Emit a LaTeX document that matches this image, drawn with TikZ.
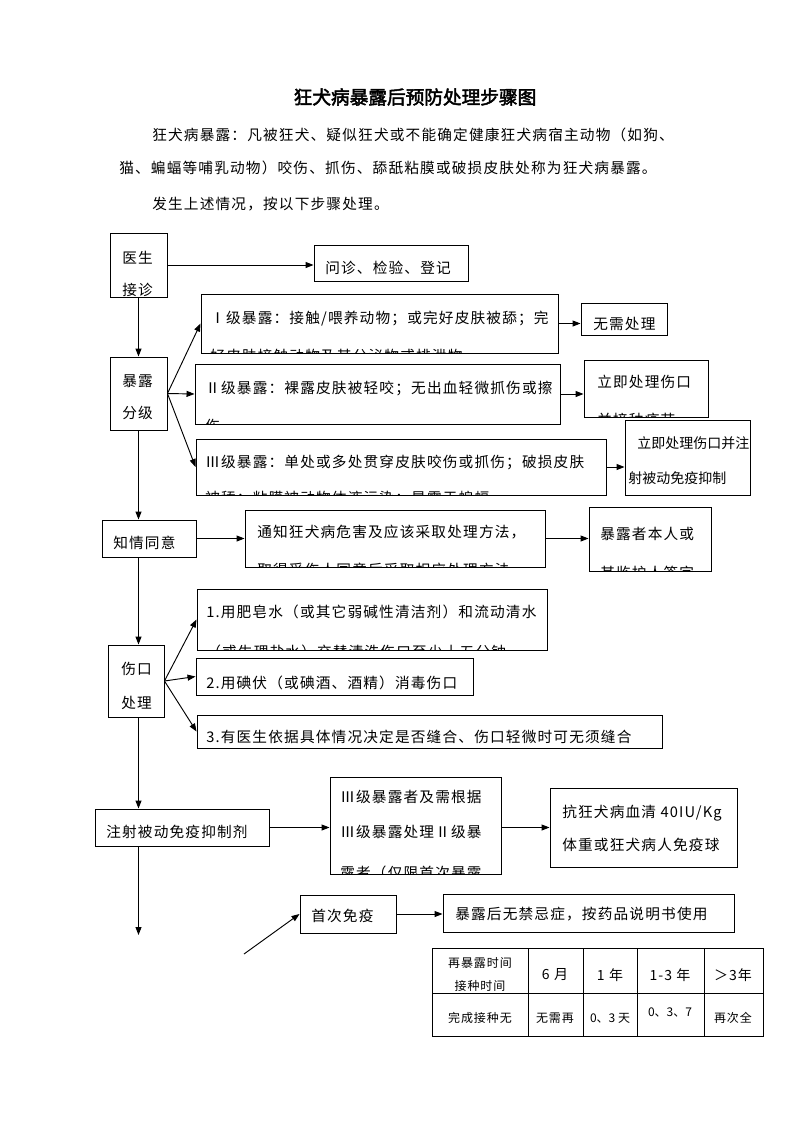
\documentclass[tikz,border=0pt]{standalone}
\usepackage{fontspec}
\usetikzlibrary{arrows.meta,fit}
\newfontfamily\cjk[LetterSpace=8]{Noto Sans CJK SC}
\newfontfamily\cjktight{Noto Sans CJK SC}
\newfontfamily\cjkb[FakeBold=2.5]{Noto Sans CJK SC}
\tikzset{
  box/.style={draw, line width=0.7pt, inner sep=0pt},
  txt/.style={anchor=west, inner sep=0pt, font=\cjk\fontsize{11}{13}\selectfont},
  tsm/.style={anchor=center, inner sep=0pt, font=\cjk\fontsize{9}{11}\selectfont},
  tnum/.style={anchor=center, inner sep=0pt, font=\cjktight\fontsize{9}{11}\selectfont},
  tmd/.style={anchor=center, inner sep=0pt, font=\cjk\fontsize{10.5}{12}\selectfont},
  arr/.style={-{Triangle[length=6pt,width=4.5pt]}, line width=0.7pt},
}
\newcommand\clipbox[1]{\clip (#1.south west) rectangle (#1.north east);}
\begin{document}
\begin{tikzpicture}[x=0.75pt,y=-0.75pt]
\useasboundingbox (0,0) rectangle (793,1122);
\fill[white] (0,0) rectangle (793,1122);

% title and intro
\node[inner sep=0pt, font=\cjkb\fontsize{14}{16}\selectfont] (title) at (415,97) {狂犬病暴露后预防处理步骤图};
\node[txt] (p1) at (152,135) {狂犬病暴露：凡被狂犬、疑似狂犬或不能确定健康狂犬病宿主动物（如狗、};
\node[txt] (p2) at (119,168) {猫、蝙蝠等哺乳动物）咬伤、抓伤、舔舐粘膜或破损皮肤处称为狂犬病暴露。};
\node[txt] (p3) at (152,204) {发生上述情况，按以下步骤处理。};

% boxes
\node[box, fit={(110,233)(167,297)}] (doc) {};
\node[box, fit={(314,245)(468,281)}] (wz) {};
\node[box, fit={(201,294)(558,353)}] (g1) {};
\node[box, fit={(581,303)(667,335)}] (none) {};
\node[box, fit={(110,357)(167,430)}] (grade) {};
\node[box, fit={(195,364)(560,424)}] (g2) {};
\node[box, fit={(584,360)(708,417)}] (ljcl) {};
\node[box, fit={(196,439)(606,495)}] (g3) {};
\node[box, fit={(625,420)(750,495)}] (zs) {};
\node[box, fit={(102,520)(196,557)}] (consent) {};
\node[box, fit={(245,510)(545,567)}] (notify) {};
\node[box, fit={(589,507)(711,571)}] (sign) {};
\node[box, fit={(108,645)(164,717)}] (wound) {};
\node[box, fit={(197,589)(547,650)}] (w1) {};
\node[box, fit={(196,658)(473,695)}] (w2) {};
\node[box, fit={(197,715)(662,748)}] (w3) {};
\node[box, fit={(95,809)(269,846)}] (inj) {};
\node[box, fit={(330,777)(501,874)}] (pas) {};
\node[box, fit={(550,788)(737,867)}] (serum) {};
\node[box, fit={(300,895)(396,933)}] (first) {};
\node[box, fit={(443,894)(734,932)}] (post) {};

% box texts (clipped to their boxes)
\begin{scope}\clipbox{doc}
  \node[txt] (doc1) at (122,258) {医生};
  \node[txt] (doc2) at (122,290) {接诊};
\end{scope}
\node[txt] (wzt) at (325,268) {问诊、检验、登记};
\begin{scope}\clipbox{g1}
  \node[txt] (g1a) at (210,319) {Ⅰ级暴露：接触/喂养动物；或完好皮肤被舔；完};
  \node[txt] (g1b) at (210,356) {好皮肤接触动物及其分泌物或排泄物};
\end{scope}
\node[txt] (nonet) at (593,324) {无需处理};
\node[txt] (gr1) at (122,381) {暴露};
\node[txt] (gr2) at (122,413) {分级};
\begin{scope}\clipbox{g2}
  \node[txt] (g2a) at (205,388) {Ⅱ级暴露：裸露皮肤被轻咬；无出血轻微抓伤或擦};
  \node[txt] (g2b) at (205,426) {伤};
\end{scope}
\begin{scope}\clipbox{ljcl}
  \node[txt] (lj1) at (597,382) {立即处理伤口};
  \node[txt] (lj2) at (597,420) {并接种疫苗};
\end{scope}
\begin{scope}\clipbox{g3}
  \node[txt] (g3a) at (205,462) {Ⅲ级暴露：单处或多处贯穿皮肤咬伤或抓伤；破损皮肤};
  \node[txt] (g3b) at (205,498) {被舔；粘膜被动物体液污染；暴露于蝙蝠};
\end{scope}
\begin{scope}\clipbox{zs}
  \node[txt, font=\cjktight\fontsize{10.5}{13}\selectfont] (zs1) at (637,443) {立即处理伤口并注};
  \node[txt, font=\cjktight\fontsize{10.5}{13}\selectfont] (zs2) at (628,478) {射被动免疫抑制};
\end{scope}
\node[txt] (cst) at (113,543) {知情同意};
\begin{scope}\clipbox{notify}
  \node[txt] (nt1) at (257,532) {通知狂犬病危害及应该采取处理方法，};
  \node[txt] (nt2) at (257,570) {取得受伤人同意后采取相应处理方法};
\end{scope}
\begin{scope}\clipbox{sign}
  \node[txt] (sg1) at (600,534) {暴露者本人或};
  \node[txt] (sg2) at (600,573) {其监护人签字};
\end{scope}
\node[txt] (wd1) at (121,669) {伤口};
\node[txt] (wd2) at (121,703) {处理};
\begin{scope}\clipbox{w1}
  \node[txt] (w1a) at (206,612) {1.用肥皂水（或其它弱碱性清洁剂）和流动清水};
  \node[txt] (w1b) at (206,652) {（或生理盐水）交替清洗伤口至少十五分钟};
\end{scope}
\node[txt] (w2t) at (206,683) {2.用碘伏（或碘酒、酒精）消毒伤口};
\node[txt] (w3t) at (206,737) {3.有医生依据具体情况决定是否缝合、伤口轻微时可无须缝合};
\node[txt] (injt) at (106,832) {注射被动免疫抑制剂};
\begin{scope}\clipbox{pas}
  \node[txt] (ps1) at (340,797) {Ⅲ级暴露者及需根据};
  \node[txt] (ps2) at (340,832) {Ⅲ级暴露处理Ⅱ级暴};
  \node[txt] (ps3) at (340,873) {露者（仅限首次暴露};
\end{scope}
\node[txt] (sr1) at (562,813) {抗狂犬病血清 40IU/Kg};
\node[txt] (sr2) at (562,845) {体重或狂犬病人免疫球};
\node[txt] (ft) at (311,916) {首次免疫};
\node[txt] (pt) at (455,914) {暴露后无禁忌症，按药品说明书使用};

% connectors
\draw[arr] (doc.east) -- (doc.east -| wz.west);
\draw[arr] (doc.south) -- (doc.south |- grade.north);
\draw[arr] (grade.east) -- (g1.west);
\draw[arr] (grade.east) -- (g2.west);
\draw[arr] (grade.east) -- (g3.west);
\draw[arr] (g1.east) -- (g1.east -| none.west);
\draw[arr] (g2.east) -- (g2.east -| ljcl.west);
\draw[arr] (g3.east) -- (g3.east -| zs.west);
\draw[arr] (grade.south) -- (grade.south |- consent.north);
\draw[arr] (consent.east) -- (consent.east -| notify.west);
\draw[arr] (notify.east) -- (notify.east -| sign.west);
\draw[arr] (consent.south -| grade.south) -- (wound.north -| grade.south);
\draw[arr] (wound.east) -- (w1.west);
\draw[arr] (wound.east) -- (w2.west);
\draw[arr] (wound.east) -- (w3.west);
\draw[arr] (wound.south -| grade.south) -- (inj.north -| grade.south);
\draw[arr] (inj.east) -- (inj.east -| pas.west);
\draw[arr] (pas.east |- inj.east) -- (serum.west |- inj.east);
\coordinate (down) at (138.5,935);
\draw[arr] (inj.south -| grade.south) -- (down);
\coordinate (dstart) at (244,954);
\draw[arr] (dstart) -- (first.west);
\draw[arr] (first.east) -- (first.east -| post.west);

% table
\draw[line width=0.7pt] (432,948) rectangle (763,1036);
\draw[line width=0.7pt] (432,993) -- (763,993);
\foreach \cx in {528,583,637,704} \draw[line width=0.7pt] (\cx,948) -- (\cx,1036);
\node[tsm] (h0a) at (480,963) {再暴露时间};
\node[tsm] (h0b) at (480,986) {接种时间};
\node[tmd] (h1) at (555,975) {6 月};
\node[tmd] (h2) at (610,975) {1 年};
\node[tmd] (h3) at (670,975) {1-3 年};
\node[tmd] (h4) at (733,975) {＞3年};
\node[tsm] (r0) at (480,1018) {完成接种无};
\node[tsm] (r1) at (555,1018) {无需再};
\node[tnum] (r2) at (610,1018) {0、3 天};
\node[tnum] (r3) at (670,1012) {0、3、7};
\node[tsm] (r4) at (733,1018) {再次全};
\end{tikzpicture}
\end{document}
